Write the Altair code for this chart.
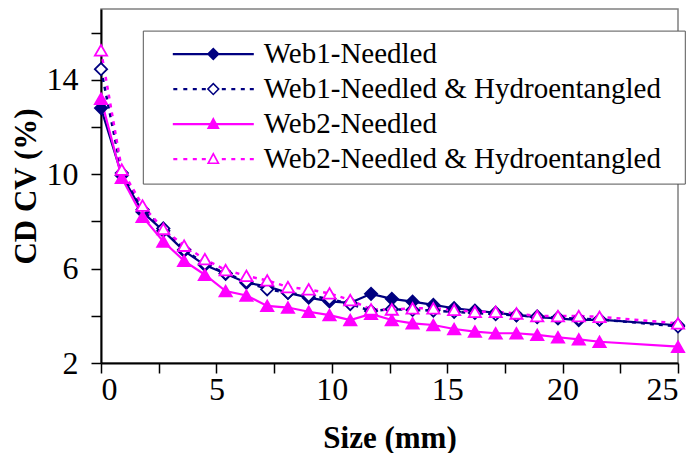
import altair as alt
import pandas as pd

# ---- data ----
size_mm = [0, 0.9, 1.8, 2.7, 3.6, 4.5, 5.4, 6.3, 7.2, 8.1, 9.0, 9.9, 10.8, 11.7,
           12.6, 13.5, 14.4, 15.3, 16.2, 17.1, 18.0, 18.9, 19.8, 20.7, 21.6, 25.0]
web1_needled = [12.8, 9.95, 8.4, 7.6, 6.75, 6.15, 5.78, 5.4, 5.25, 4.97, 4.77, 4.61, 4.55, 4.93,
                4.72, 4.6, 4.46, 4.32, 4.22, 4.13, 4.03, 3.94, 3.89, 3.82, 3.84, 3.6]
web1_needled_hydro = [14.45, 10.05, 8.5, 7.7, 6.8, 6.2, 5.8, 5.45, 5.12, 4.98, 4.85, 4.72, 4.5, 4.2,
                      4.28, 4.25, 4.22, 4.17, 4.12, 4.07, 4.02, 3.97, 3.92, 3.87, 3.85, 3.55]
web2_needled = [13.2, 9.85, 8.2, 7.15, 6.33, 5.74, 5.05, 4.86, 4.42, 4.35, 4.17, 4.03, 3.82, 4.08,
                3.82, 3.68, 3.61, 3.44, 3.33, 3.26, 3.26, 3.19, 3.09, 3.0, 2.9, 2.69]
web2_needled_hydro = [15.25, 10.2, 8.67, 7.68, 6.97, 6.4, 5.94, 5.69, 5.5, 5.22, 5.12, 4.95, 4.67, 4.27,
                      4.27, 4.32, 4.32, 4.25, 4.17, 4.17, 4.1, 3.99, 3.99, 3.99, 3.96, 3.68]

series_names = ["Web1-Needled", "Web1-Needled & Hydroentangled",
                "Web2-Needled", "Web2-Needled & Hydroentangled"]
series_values = [web1_needled, web1_needled_hydro, web2_needled, web2_needled_hydro]

x_ticks = [0, 2.5, 5, 7.5, 10, 12.5, 15, 17.5, 20, 22.5, 25]
y_ticks = [2, 4, 6, 8, 10, 12, 14, 16]

rows = []
for name, vals in zip(series_names, series_values):
    for xv, yv in zip(size_mm, vals):
        rows.append({"series": name, "size": xv, "cv": yv})
df = pd.DataFrame(rows)

# ---- styles ----
NAVY = "#000080"
MAG = "#FF00FF"
FONT = "Liberation Serif"
line_colors = [NAVY, NAVY, MAG, MAG]
fill_colors = [NAVY, "white", MAG, "white"]
shapes = ["diamond", "diamond", "triangle-up", "triangle-up"]
dashes = [None, [4, 5], None, [4, 5]]

# legend symbols: line + marker as one filled path (unit = 7 px)
U = 7.0
def poly(pts):
    return "M" + " L".join(f"{x/U:.3f},{y/U:.3f}" for x, y in pts) + " Z"
def rect(x0, y0, x1, y1):
    return poly([(x0, y0), (x1, y0), (x1, y1), (x0, y1)])
solid = rect(-40.5, -1.1, 40.5, 1.1)
dots = " ".join(rect(s, -1.2, s + 4, 1.2) for s in [-40, -30, -20.5, -11.5, 8.5, 18, 27.5, 36.5])
dia_f = poly([(0, -6.5), (6.5, 0), (0, 6.5), (-6.5, 0)])
dia_o = poly([(0, -6.5), (6.5, 0), (0, 6.5), (-6.5, 0)]) + " " + poly([(0, -4.3), (-4.3, 0), (0, 4.3), (4.3, 0)])
tri_f = poly([(0, -7), (6.5, 5), (-6.5, 5)])
tri_o = poly([(0, -7), (6.5, 5), (-6.5, 5)]) + " " + poly([(0, -3.5), (-3.75, 3.4), (3.75, 3.4)])
legend_paths = [solid + " " + dia_f, dots + " " + dia_o, solid + " " + tri_f, dots + " " + tri_o]

x_enc = alt.X("size:Q", scale=alt.Scale(domain=[0, 25], nice=False, zero=False),
              axis=alt.Axis(title="Size (mm)", values=x_ticks,
                            labelExpr="datum.value % 5 == 0 ? datum.label : ''"))
y_enc = alt.Y("cv:Q", scale=alt.Scale(domain=[2, 17], nice=False, zero=False),
              axis=alt.Axis(title="CD CV (%)", values=y_ticks,
                            labelExpr="(datum.value - 2) % 4 == 0 ? datum.label : ''"))

line_layers = []
for name, lc, dash in zip(series_names, line_colors, dashes):
    kw = dict(stroke=lc, strokeWidth=2.2 if dash is None else 2.5)
    if dash is not None:
        kw["strokeDash"] = dash
    line_layers.append(
        alt.Chart(df).transform_filter(alt.datum.series == name).mark_line(**kw).encode(x=x_enc, y=y_enc)
    )

point_layers = []
for name, shp, fc, lc in zip(series_names, shapes, fill_colors, line_colors):
    point_layers.append(
        alt.Chart(df).transform_filter(alt.datum.series == name).mark_point(
            shape=shp, filled=True, fill=fc, stroke=lc, opacity=1, strokeWidth=1.8, size=150
        ).encode(x=x_enc, y=y_enc)
    )

leg = alt.Legend(title=None, orient="none", legendX=41.8, legendY=21.6,
                 symbolSize=196, symbolOffset=47, labelOffset=36, symbolStrokeWidth=0,
                 labelFont=FONT, labelFontSize=29, labelColor="black", labelLimit=700,
                 rowPadding=5, padding=9, strokeColor="#555555", fillColor="white",
                 labelExpr="datum.label + '\u2002\u200b'")

legend_layer = alt.Chart(df).transform_filter("false").mark_point(filled=True, opacity=1).encode(
    x=x_enc, y=y_enc,
    shape=alt.Shape("series:N", scale=alt.Scale(domain=series_names, range=legend_paths), legend=leg),
    fill=alt.Fill("series:N", scale=alt.Scale(domain=series_names, range=line_colors), legend=leg),
)

chart = alt.layer(*line_layers, *point_layers, legend_layer).properties(
    width=577, height=354,
    autosize=alt.AutoSizeParams(type="none"),
    padding={"left": 93, "top": 1, "right": 8, "bottom": 90},
    background="white",
).configure_view(
    stroke="#808080", strokeWidth=1.5
).configure_axis(
    grid=False,
    domainColor="black", domainWidth=2,
    tickColor="black", tickWidth=1.5, tickSize=10,
    labelFont=FONT, labelFontSize=32, labelColor="black",
    titleFont=FONT, titleFontSize=31, titleFontWeight="bold", titleColor="black",
).configure_axisX(
    labelPadding=1, titlePadding=18,
).configure_axisY(
    labelPadding=13, titlePadding=4,
)

chart.save("out.html", embed_options={"renderer": "svg", "actions": False})
